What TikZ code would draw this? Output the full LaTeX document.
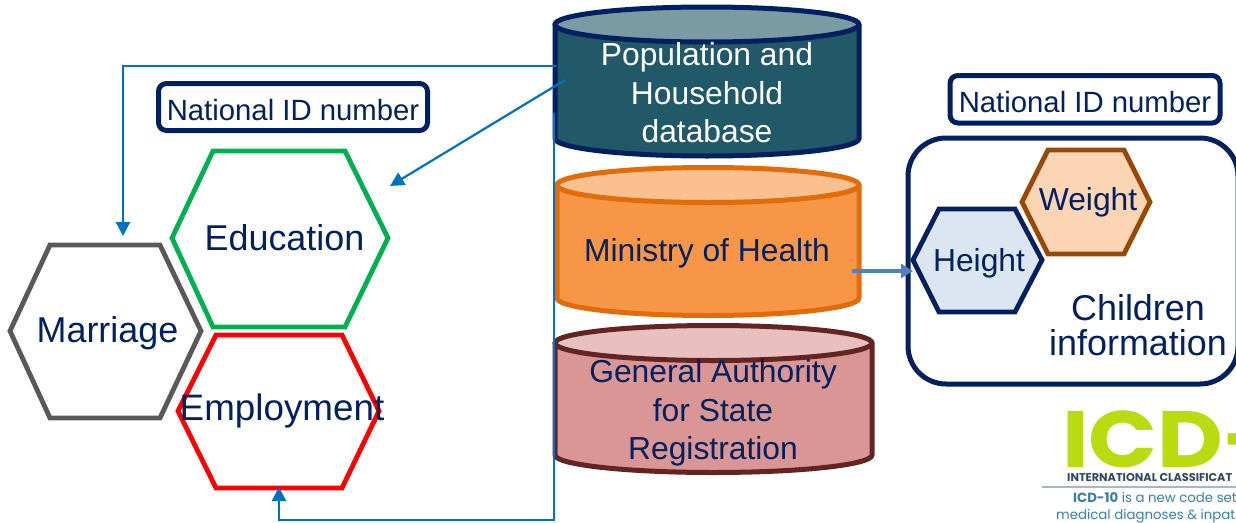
\documentclass[tikz,border=0pt]{standalone}
\usepackage{fontspec}
\setmainfont{Liberation Sans}
\newfontfamily\logofont{Poppins}
\usetikzlibrary{arrows.meta}
\definecolor{navy}{HTML}{002060}
\definecolor{linkblue}{HTML}{0070C0}
\definecolor{steel}{HTML}{4F81BD}
\definecolor{lime}{HTML}{B8DC10}
\definecolor{logoblue}{HTML}{3C7FA6}
\definecolor{logonavy}{HTML}{2F4A63}
\definecolor{logorule}{HTML}{A9B8C8}
\definecolor{hexbrown}{HTML}{984807}
\definecolor{hexpeach}{HTML}{FCD5B5}
\definecolor{hexpale}{HTML}{DCE6F2}
\definecolor{hexgreen}{HTML}{00B050}
\definecolor{hexgrey}{HTML}{595959}
\definecolor{popbody}{HTML}{215968}
\definecolor{poptop}{HTML}{7A9BA4}
\definecolor{mohline}{HTML}{E36C0A}
\definecolor{mohbody}{HTML}{F79646}
\definecolor{mohtop}{HTML}{FBC08F}
\definecolor{gasline}{HTML}{632523}
\definecolor{gasbody}{HTML}{D99694}
\definecolor{gastop}{HTML}{E8C0C0}
\tikzset{
  hexline/.style={line width=4.8pt,line join=miter},
  cylline/.style={line width=5pt,line join=round},
  idbox/.style={draw=navy,line width=5pt,rounded corners=8pt,fill=white},
  label/.style={text=navy,align=center,inner sep=0pt,anchor=center},
  link/.style={draw=linkblue,line width=2.2pt},
  linkarrow/.style={link,-{Triangle[length=14pt,width=14pt]}},
  healtharrow/.style={draw=steel,line width=3.2pt,-{Triangle[length=12pt,width=14pt]}},
  big/.style={font=\fontsize{35.9}{35}\selectfont},
  mid/.style={font=\fontsize{31.8}{38.5}\selectfont},
  small/.style={font=\fontsize{29.3}{34}\selectfont},
}
% \hexshape{xl}{xa}{xb}{xr}{ytop}{ymid}{ybot}{style}
\newcommand{\hexshape}[8]{\draw[hexline,#8] (#1,#6) -- (#2,#5) -- (#3,#5) -- (#4,#6) -- (#3,#7) -- (#2,#7) -- cycle;}
% \cylshape{xl}{xr}{ycentre}{ry}{ybottomside}{stroke}{body}{top}
\newcommand{\cylshape}[8]{%
  \pgfmathsetmacro{\cylcx}{(#1+#2)/2}\pgfmathsetmacro{\cylrx}{(#2-#1)/2}%
  \draw[cylline,draw=#6,fill=#7] (#1,#3) -- (#1,#5) arc[start angle=180,end angle=360,x radius=\cylrx pt,y radius=#4 pt] -- (#2,#3) -- cycle;%
  \draw[cylline,draw=#6,fill=#8] (\cylcx,#3) ellipse[x radius=\cylrx pt,y radius=#4 pt];}
\begin{document}
\begin{tikzpicture}[x=1pt,y=-1pt]
\useasboundingbox (0,0) rectangle (1236,522);
\clip (0,0) rectangle (1236,522);
\fill[white] (0,0) rectangle (1236,522);

% logo
\node[inner sep=0pt,anchor=base west,text=lime,xscale=1.13] (logo) at (1062,467) {\logofont\fontsize{80}{80}\selectfont\bfseries ICD-};
\node[inner sep=0pt,anchor=base west,text=logonavy] (logosub) at (1067,481) {\logofont\fontsize{11.3}{12}\selectfont\bfseries INTERNATIONAL CLASSIFICAT};
\coordinate (rulea) at (1042,487);
\coordinate (ruleb) at (1236,487);
\draw[draw=logorule,line width=1.2pt] (rulea) -- (ruleb);
\node[inner sep=0pt,anchor=base west,text=logoblue] (logol1) at (1073,502) {\logofont\fontsize{13.3}{14}\selectfont\textbf{ICD-10} is a new code set};
\node[inner sep=0pt,anchor=base west,text=logoblue] (logol2) at (1056,519) {\logofont\fontsize{13.3}{14}\selectfont medical diagnoses \& inpat};

% children panel
\draw[draw=navy,line width=5pt,rounded corners=38pt,fill=white] (908,138) rectangle (1238,384);
\draw[idbox] (950,75.5) rectangle (1220,123);
\node[label,small] (idright) at (1085,102) {National ID number};
\hexshape{1022}{1048}{1124}{1150}{150}{202}{254}{draw=hexbrown,fill=hexpeach}
\node[label,mid] (weight) at (1088,202) {Weight};
\hexshape{913}{939}{1015}{1042}{209}{260}{312}{draw=navy,fill=hexpale}
\node[label,mid] (height) at (979,263) {Height};
\node[label,big] (children) at (1138,325) {Children\\information};

% left group
\draw[idbox] (158.5,83.5) rectangle (427.5,130.5);
\node[label,small] (idleft) at (293,110) {National ID number};
\hexshape{172}{213}{345}{388}{151}{238}{327}{draw=hexgreen}
\node[label,big] (education) at (284.5,238) {Education};
\hexshape{10}{50}{160}{201}{245}{331}{418}{draw=hexgrey}
\node[label,big] (marriage) at (107.5,333) {Marriage};
\hexshape{178}{216}{342}{379}{335}{411}{488}{draw=red}
\node[label,big,font=\fontsize{36.8}{35}\selectfont] (employment) at (282,411) {Employment};

% cylinders
\cylshape{555}{859}{24.5}{17.5}{138.5}{navy}{popbody}{poptop}
\node[label,mid,text=white] (pop) at (707,93) {Population and\\Household\\database};
\cylshape{557}{859}{185}{17.5}{298}{mohline}{mohbody}{mohtop}
\node[label,mid] (moh) at (707,253) {Ministry of Health};
\cylshape{555}{872}{343}{17.5}{455}{gasline}{gasbody}{gastop}
\node[label,mid] (gas) at (713,413) {General Authority\\for State\\Registration};

% connectors
\coordinate (m1) at (556,66);
\coordinate (m2) at (123,66);
\coordinate (m3) at (123,236);
\draw[linkarrow] (m1) -- (m2) -- (m3);
\coordinate (e1) at (565,80);
\coordinate (e2) at (390,186);
\draw[linkarrow] (e1) -- (e2);
\coordinate (j1) at (554,113);
\coordinate (j2) at (554,520);
\coordinate (j3) at (279,520);
\coordinate (j4) at (279,487);
\draw[linkarrow] (j1) -- (j2) -- (j3) -- (j4);
\coordinate (h1) at (852,271);
\coordinate (h2) at (913,271);
\draw[healtharrow] (h1) -- (h2);
\end{tikzpicture}
\end{document}
